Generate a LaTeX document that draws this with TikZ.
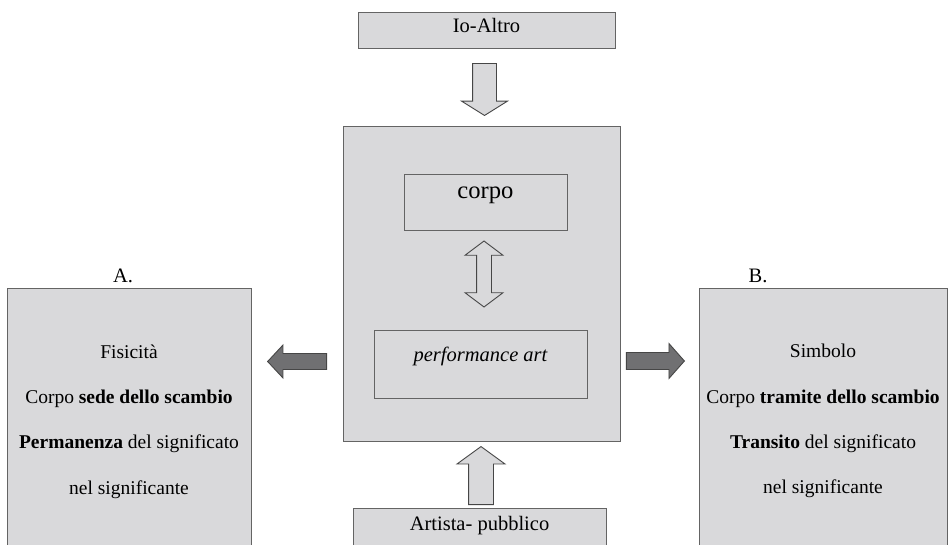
\documentclass[tikz,border=0pt]{standalone}
\usepackage{fontspec}
\setmainfont{Liberation Serif}
\usetikzlibrary{shapes.arrows,positioning}
\definecolor{boxfill}{RGB}{217,217,219}
\definecolor{boxline}{RGB}{100,100,100}
\definecolor{arrowline}{RGB}{70,70,70}
\definecolor{arrowfill}{RGB}{112,112,114}

\begin{document}
\begin{tikzpicture}[x=1pt,y=-1pt,
    every node/.style={font=\fontsize{20.5}{24}\selectfont},
    box/.style={draw=boxline, fill=boxfill, line width=0.9pt, inner sep=0pt},
    sidetext/.style={align=center, font=\fontsize{19.5}{45.3}\selectfont},
    blockarrow/.style={single arrow, draw=arrowline, line width=0.9pt,
      inner xsep=0pt, single arrow head indent=0pt},
    hollow/.style={blockarrow, fill=boxfill},
    darkarrow/.style={blockarrow, fill=arrowfill}]
      \useasboundingbox (0,0) rectangle (948,545);
      \node [box, minimum width=257pt, text height=21pt, text depth=15pt] (ioaltro) at (486.5,30) {Io-Altro};
      \node [box, minimum width=277pt, minimum height=315pt, below=78pt of ioaltro, xshift=-5pt] (central) {};
      \node [box, minimum width=163pt, text height=24.5pt, text depth=31.5pt, font=\fontsize{24.6}{28}\selectfont] (corpo) at (485.5,202) {corpo};
      \node [box, minimum width=213pt, text height=32pt, text depth=36pt, font=\fontsize{20.5}{24}\selectfont\itshape] (perf) at (480.5,364) {performance art};
      \node [box, minimum width=253pt, text height=22pt, text depth=31pt, below=66pt of central, xshift=-2pt] (artista) {Artista- pubblico};
      \node [box, minimum width=244pt, minimum height=272pt] (boxA) at (129,424) {};
      \node [box, minimum width=248pt, minimum height=272pt] (boxB) at (823,424) {};
      \node [anchor=base] (labelA) at (123,283) {A.};
      \node [anchor=base] (labelB) at (758,283) {B.};
      \node [sidetext] (textA) at (129,421.5) {Fisicità\\Corpo \textbf{sede dello scambio}\\\textbf{Permanenza} del significato\\nel significante};
      \node [sidetext] (textB) at (823,421) {Simbolo\\Corpo \textbf{tramite dello scambio}\\\textbf{Transito} del significato\\nel significante};
      \node [hollow, rotate=-90, minimum height=52pt, inner ysep=11.5pt, single arrow head extend=11pt, single arrow tip angle=116, anchor=tip] (arrowtop) at (484.5,116) {};
      \node [hollow, double arrow, rotate=90, minimum height=66pt, inner ysep=7pt, double arrow head extend=11.5pt, double arrow tip angle=106, double arrow head indent=0pt] (arrowmid) at (484,274) {};
      \node [hollow, rotate=90, minimum height=58pt, inner ysep=12pt, single arrow head extend=11.5pt, single arrow tip angle=108, anchor=tip] (arrowbot) at (481,446) {};
      \node [darkarrow, rotate=180, minimum height=59pt, inner ysep=7.5pt, single arrow head extend=8.5pt, single arrow tip angle=94, anchor=tip] (arrowA) at (267,361.5) {};
      \node [darkarrow, minimum height=58pt, inner ysep=8pt, single arrow head extend=9pt, single arrow tip angle=97, anchor=tip] (arrowB) at (685,361) {};
    \end{tikzpicture}
\end{document}
